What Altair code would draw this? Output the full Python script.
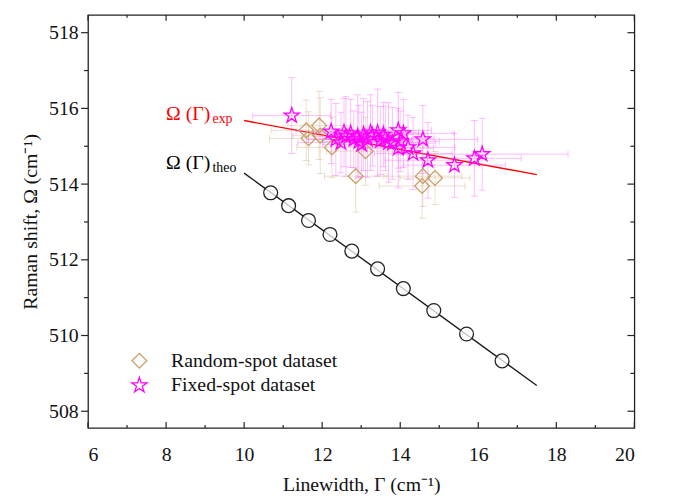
import altair as alt
import pandas as pd

# ---------------- data ----------------
# theoretical relation (circles + line)
theo_x = [10.68, 11.14, 11.65, 12.20, 12.76, 13.42, 14.08, 14.86, 15.70, 16.61]
theo_y = [513.77, 513.43, 513.04, 512.67, 512.23, 511.76, 511.24, 510.66, 510.04, 509.33]
theo_line_x = [10.0, 17.5]
theo_line_y = [514.29, 508.68]

# experimental fit line
exp_line_x = [10.0, 17.5]
exp_line_y = [515.68, 514.25]

# random-spot dataset (diamonds)
rand_x = [11.59, 11.92, 11.65, 11.95, 12.25, 13.11, 12.86, 14.58, 14.89, 14.56]
rand_y = [515.42, 515.55, 515.21, 515.28, 514.97, 514.87, 514.21, 514.21, 514.16, 513.95]
rand_xerr = [0.90, 0.80, 1.00, 0.70, 0.90, 1.00, 0.80, 1.00, 0.90, 1.10]
rand_yerr = [0.80, 0.90, 0.70, 1.00, 0.80, 0.90, 0.95, 0.80, 0.70, 0.85]

# fixed-spot dataset (stars)
fix_x = [11.22, 12.23, 12.35, 12.48, 12.61, 12.73, 12.81, 12.91, 13.01, 13.06,
         13.16, 13.29, 13.42, 13.49, 13.62, 13.70, 13.80, 13.95, 14.08, 14.00,
         13.95, 14.20, 14.33, 14.58, 14.71, 15.39, 15.90, 16.10, 12.56, 13.24,
         13.57, 12.94]
fix_y = [515.81, 515.39, 515.18, 515.10, 515.26, 515.34, 515.18, 515.26, 515.05, 515.31,
         515.18, 515.28, 515.36, 515.15, 515.21, 515.10, 515.08, 515.42, 515.34, 515.13,
         514.95, 514.97, 514.81, 515.18, 514.63, 514.50, 514.68, 514.79, 515.36, 515.36,
         515.31, 515.13]
fix_xerr = [1.00, 0.90, 0.70, 1.10, 0.80, 0.95, 1.20, 0.75, 1.00, 0.85,
            1.15, 0.90, 1.05, 0.80, 1.25, 0.95, 1.10, 0.85, 1.30, 1.00,
            0.90, 1.20, 1.00, 1.40, 1.10, 1.30, 1.20, 2.20, 0.80, 0.95,
            1.05, 0.90]
fix_yerr = [1.00, 0.85, 0.95, 0.80, 1.05, 0.90, 0.75, 1.10, 0.85, 0.95,
            1.00, 0.80, 1.15, 0.90, 0.85, 1.05, 0.95, 1.00, 0.90, 0.80,
            1.05, 0.85, 0.95, 0.90, 1.00, 0.85, 1.00, 0.95, 0.90, 1.00,
            0.85, 0.95]

series_names = ["Random-spot dataset", "Fixed-spot dataset"]
series_colors = ["#C8A06A", "#FF00FF"]
err_colors = ["#C8A06A", "#FF44FF"]

x_major = [6, 8, 10, 12, 14, 16, 18, 20]
x_minor = [7, 9, 11, 13, 15, 17, 19]
y_major = [508, 510, 512, 514, 516, 518]
y_minor = [509, 511, 513, 515, 517]

exp_label = {"x": [8.0], "y": [515.70], "t": ["Ω (Γ)"], "s": ["exp"]}
theo_label = {"x": [8.0], "y": [514.40], "t": ["Ω (Γ)"], "s": ["theo"]}

STAR = ("M0,-1L0.2245,-0.309L0.9511,-0.309L0.3633,0.118L0.5878,0.809L0,0.382"
        "L-0.5878,0.809L-0.3633,0.118L-0.9511,-0.309L-0.2245,-0.309Z")

# ---------------- build ----------------
W, H = 553, 418
FONT = "Liberation Serif, Times New Roman, serif"

xs = alt.Scale(domain=[6, 20], nice=False, zero=False)
ys = alt.Scale(domain=[507.56, 518.47], nice=False, zero=False)
x_axis = alt.Axis(values=x_major, title="Linewidth, Γ (cm⁻¹)", format="d", orient="bottom")
y_axis = alt.Axis(values=y_major, title="Raman shift, Ω (cm⁻¹)", format="d", orient="left")


def X(f="x"):
    return alt.X(f"{f}:Q", scale=xs, axis=x_axis)


def Y(f="y"):
    return alt.Y(f"{f}:Q", scale=ys, axis=y_axis)


def err_frame(xv, yv, xe, ye, name):
    return pd.DataFrame({
        "x": xv, "y": yv,
        "xlo": [a - b for a, b in zip(xv, xe)], "xhi": [a + b for a, b in zip(xv, xe)],
        "ylo": [a - b for a, b in zip(yv, ye)], "yhi": [a + b for a, b in zip(yv, ye)],
        "dataset": name,
    })


rand_df = err_frame(rand_x, rand_y, rand_xerr, rand_yerr, series_names[0])
fix_df = err_frame(fix_x, fix_y, fix_xerr, fix_yerr, series_names[1])

layers = []


def error_layers(df, color):
    op = 0.35
    hbar = alt.Chart(df).mark_rule(color=color, opacity=op, strokeWidth=1).encode(
        x=X("xlo"), x2="xhi:Q", y=Y("y"))
    vbar = alt.Chart(df).mark_rule(color=color, opacity=op, strokeWidth=1).encode(
        x=X("x"), y=Y("ylo"), y2="yhi:Q")
    capv = pd.concat([df[["x"]].assign(y=df["ylo"]), df[["x"]].assign(y=df["yhi"])])
    caph = pd.concat([df[["y"]].assign(x=df["xlo"]), df[["y"]].assign(x=df["xhi"])])
    cv = alt.Chart(capv).mark_tick(color=color, opacity=op, orient="horizontal",
                                   size=7, thickness=1).encode(x=X(), y=Y())
    ch = alt.Chart(caph).mark_tick(color=color, opacity=op, orient="vertical",
                                   size=7, thickness=1).encode(x=X(), y=Y())
    return [hbar, vbar, cv, ch]


# lines
exp_line = alt.Chart(pd.DataFrame({"x": exp_line_x, "y": exp_line_y})).mark_line(
    color="#FF0000", strokeWidth=1.4).encode(x=X(), y=Y())
theo_line = alt.Chart(pd.DataFrame({"x": theo_line_x, "y": theo_line_y})).mark_line(
    color="#1a1a1a", strokeWidth=1.4).encode(x=X(), y=Y())
layers += [exp_line, theo_line]

layers += error_layers(rand_df, err_colors[0])
layers += error_layers(fix_df, err_colors[1])

pts = pd.concat([rand_df, fix_df])
points = alt.Chart(pts).mark_point(filled=False, strokeWidth=1.3, opacity=1).encode(
    x=X(), y=Y(),
    color=alt.Color("dataset:N", scale=alt.Scale(domain=series_names, range=series_colors),
                    legend=alt.Legend(title=None)),
    shape=alt.Shape("dataset:N", scale=alt.Scale(domain=series_names, range=["diamond", STAR]),
                    legend=alt.Legend(title=None)),
    size=alt.Size("dataset:N", scale=alt.Scale(domain=series_names, range=[225, 260]),
                  legend=None),
)
layers.append(points)

circles = alt.Chart(pd.DataFrame({"x": theo_x, "y": theo_y})).mark_circle(
    fill="white", fillOpacity=0.75, stroke="#222222",
    strokeWidth=1.3, size=196, opacity=1).encode(x=X(), y=Y())
layers.append(circles)

# annotations
for lab, col in [(exp_label, "#FF0000"), (theo_label, "#000000")]:
    ldf = pd.DataFrame(lab)
    layers.append(alt.Chart(ldf).mark_text(align="left", baseline="alphabetic", font=FONT,
                                           fontSize=20, color=col).encode(
        x=X(), y=Y(), text="t:N"))
    layers.append(alt.Chart(ldf).mark_text(align="left", baseline="alphabetic", font=FONT,
                                           fontSize=14, dx=47, dy=3, color=col).encode(
        x=X(), y=Y(), text="s:N"))

# frame ticks
xt_major = pd.DataFrame({"x": x_major})
xt_minor = pd.DataFrame({"x": x_minor})
yt_major = pd.DataFrame({"y": y_major})
yt_minor = pd.DataFrame({"y": y_minor})
tc = "#222222"
for dfm, ln in [(xt_major, 6), (xt_minor, 3)]:
    layers.append(alt.Chart(dfm).mark_rule(color=tc, strokeWidth=1.2).encode(
        x=X(), y=alt.value(H), y2=alt.value(H - ln)))
    layers.append(alt.Chart(dfm).mark_rule(color=tc, strokeWidth=1.2).encode(
        x=X(), y=alt.value(0), y2=alt.value(ln)))
for dfm, ln in [(yt_major, 7), (yt_minor, 4)]:
    layers.append(alt.Chart(dfm).mark_rule(color=tc, strokeWidth=1.2).encode(
        y=Y(), x=alt.value(-ln), x2=alt.value(0)))
    layers.append(alt.Chart(dfm).mark_rule(color=tc, strokeWidth=1.2).encode(
        y=Y(), x=alt.value(W), x2=alt.value(W - ln)))

chart = alt.layer(*layers).properties(
    width=W, height=H,
    autosize=alt.AutoSizeParams(type="none"),
    padding={"left": 81, "top": 4, "right": 31, "bottom": 69},
).configure_view(
    stroke="#222222", strokeWidth=1.3
).configure_axis(
    domain=False, ticks=False, tickSize=0, grid=False,
    labelFont=FONT, labelFontSize=20, labelColor="#111111",
    titleFont=FONT, titleFontSize=20, titleFontWeight="normal", titleColor="#111111",
).configure_axisX(
    labelPadding=17, titlePadding=10,
).configure_axisY(
    labelPadding=10, titlePadding=8,
).configure_legend(
    orient="none", legendX=42, legendY=340, padding=0,
    labelFont=FONT, labelFontSize=20, labelColor="#111111", labelLimit=0,
    symbolSize=150, symbolStrokeWidth=1.3, labelOffset=22, rowPadding=3,
)

chart.save("out.html", embed_options={"renderer": "svg", "actions": False})
